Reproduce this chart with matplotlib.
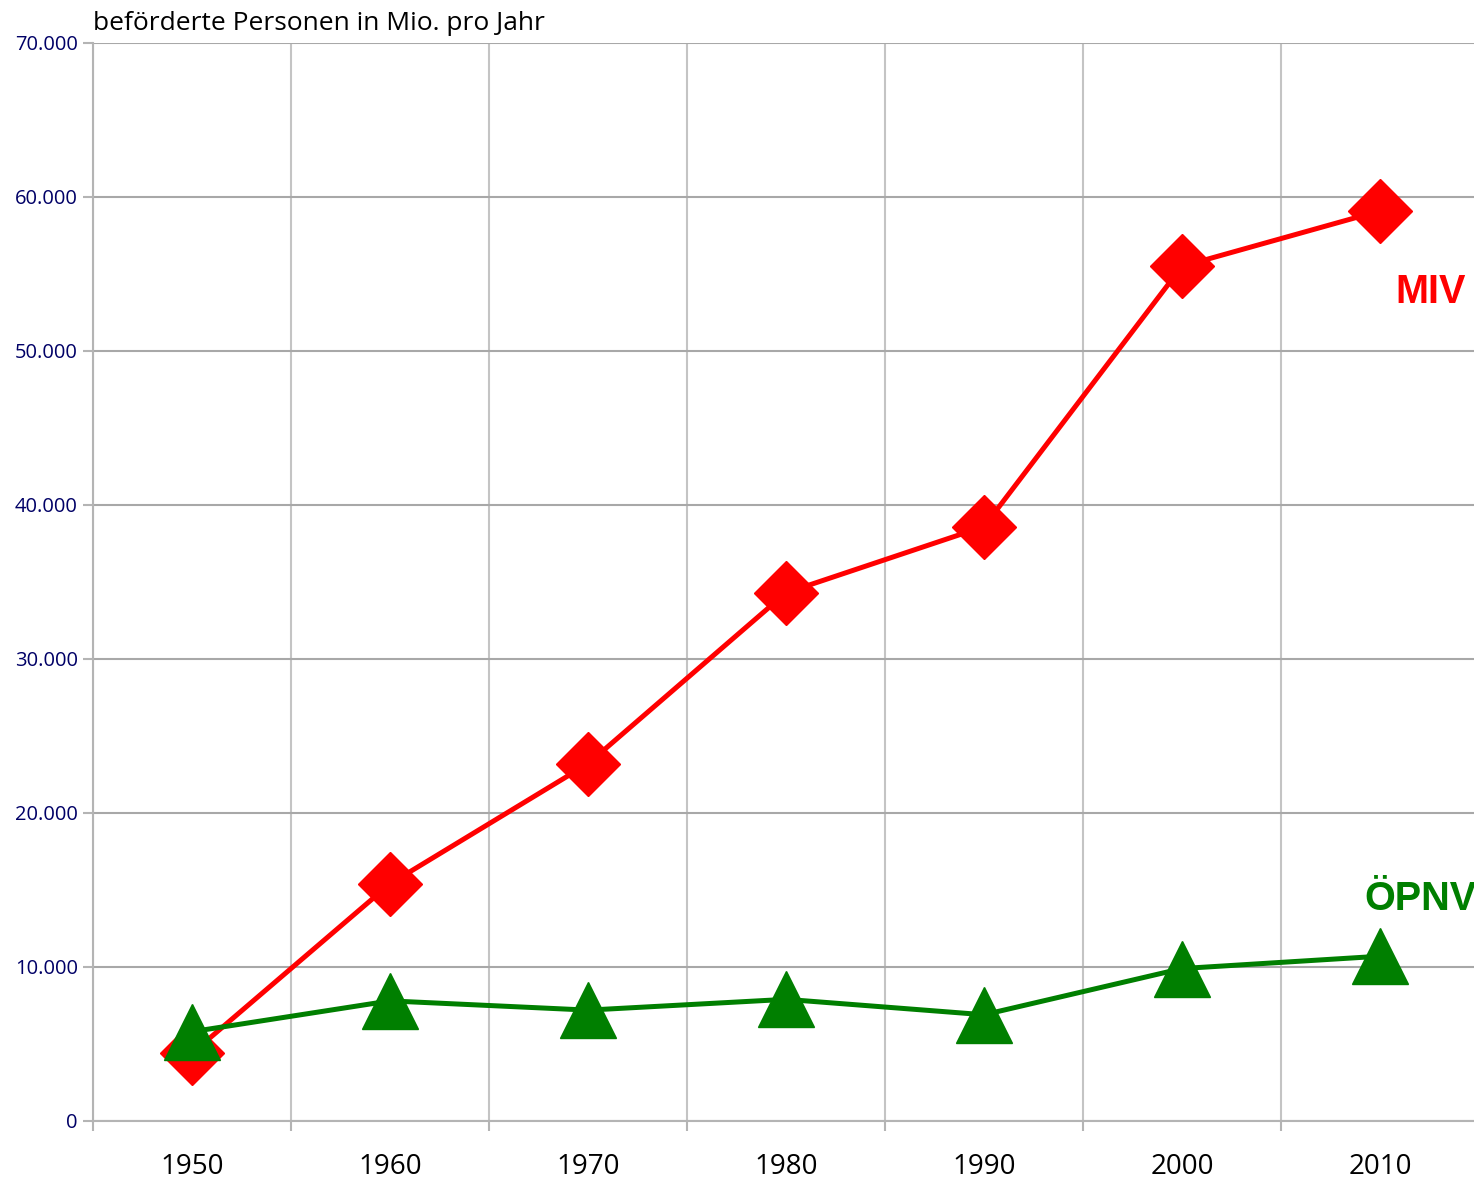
import numpy as np
from matplotlib import pyplot as plt

jahre = ["1950", "1960", "1970", "1980", "1990", "2000", "2010"]
miv = [4400, 15400, 23200, 34300, 38600, 55500, 59100]
oepnv = [5800, 7800, 7200, 7900, 6900, 9900, 10700]

W, H = 1474, 1181
fig = plt.figure(figsize=(W / 100, H / 100), dpi=100)
ax = fig.add_axes([93 / W, 1 - 1121 / H, 1386 / W, (1121 - 43) / H])

x = np.arange(len(jahre))
ax.plot(x, miv, color="#ff0000", lw=3.6, marker="D", ms=33, zorder=3, clip_on=False)
ax.plot(x, oepnv, color="#007f00", lw=3.6, marker="^", ms=40, zorder=4, clip_on=False)

ax.set_xlim(-0.5, 6.5)
ax.set_ylim(0, 70000)

ax.set_xticks(x)
ax.set_xticklabels(jahre, fontfamily="Open Sans", fontsize=20)
ax.set_xticks(np.arange(-0.5, 7, 1), minor=True)
ax.tick_params(axis="x", which="major", length=0, pad=23)
ax.tick_params(axis="x", which="minor", length=7, width=1.5, color="#b4b4b4")

yt = np.arange(0, 70001, 10000)
ax.set_yticks(yt)
ax.set_yticklabels([f"{v:,}".replace(",", ".") for v in yt],
                   fontfamily="Open Sans", fontsize=14.5, color="#000066")
ax.tick_params(axis="y", length=7, width=1.5, color="#b4b4b4", pad=4)

ax.grid(axis="y", which="major", color="#a8a8a8", lw=1.5)
ax.grid(axis="x", which="minor", color="#c4c4c4", lw=1.5)
ax.set_axisbelow(True)
for s in ["top", "right"]:
    ax.spines[s].set_visible(False)
for s in ["left", "bottom"]:
    ax.spines[s].set_color("#b4b4b4")
    ax.spines[s].set_linewidth(1.5)

fig.text(93 / W, 1 - 30 / H, "beförderte Personen in Mio. pro Jahr",
         fontfamily="Open Sans", fontsize=19, va="baseline", ha="left")
fig.text(1395 / W, 1 - 303 / H, "MIV", color="#ff0000", fontfamily="Liberation Sans",
         fontweight="bold", fontsize=28.5, va="baseline", ha="left")
fig.text(1364 / W, 1 - 910 / H, "ÖPNV", color="#007f00", fontfamily="Liberation Sans",
         fontweight="bold", fontsize=28.5, va="baseline", ha="left")

fig.savefig("out.png", dpi=100)
